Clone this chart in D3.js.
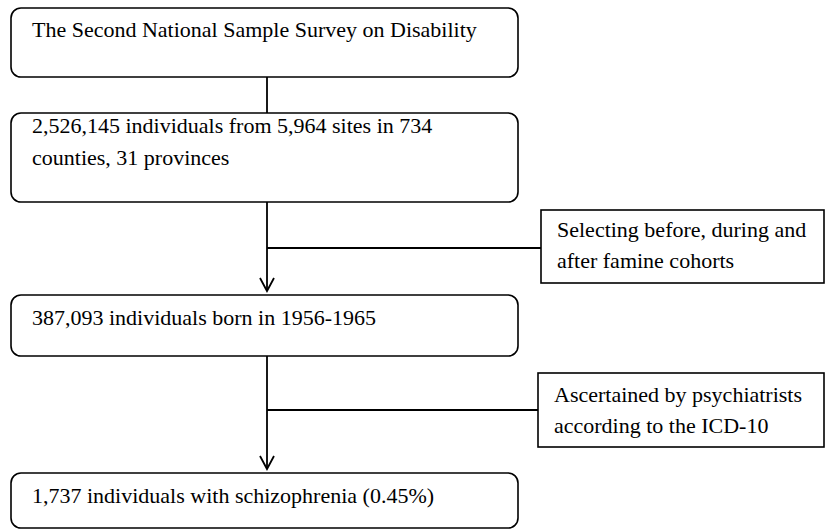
<!DOCTYPE html>
<html><head><meta charset="utf-8">
<script src="https://cdn.jsdelivr.net/npm/d3@7/dist/d3.min.js"></script>
<style>html,body{margin:0;padding:0;background:#fff;}svg{display:block;}</style>
</head><body>
<svg id="chart" width="827" height="532"></svg>
<script>
// Flowchart content
const mainSteps = [
  ["The Second National Sample Survey on Disability"],
  ["2,526,145 individuals from 5,964 sites in 734", "counties, 31 provinces"],
  ["387,093 individuals born in 1956-1965"],
  ["1,737 individuals with schizophrenia (0.45%)"]
];
const sideNotes = [
  ["Selecting before, during and", "after famine cohorts"],
  ["Ascertained by psychiatrists", "according to the ICD-10"]
];

const svg = d3.select("#chart");
const font = "'Liberation Serif','Times New Roman',serif";
const fs = 22;

// layout
const mainX = 11, mainW = 507;
const mainTops = [8, 113, 295, 473];
const mainBottoms = [77, 202, 356, 528];
const mainBase = [29, 20, 30, 30];
const connX = 267;
const sideXs = [541, 538];
const sideTops = [210, 373], sideBottoms = [283, 447];
const sideBase = [27, 29];
const branchY = [248, 410];

const y = d3.scaleLinear().domain([0, 532]).range([0, 532]);

const g = svg.append("g");
g.selectAll("rect.main").data(mainSteps).join("rect")
  .attr("class", "main")
  .attr("x", mainX).attr("y", (d, i) => y(mainTops[i]))
  .attr("width", mainW).attr("height", (d, i) => y(mainBottoms[i]) - y(mainTops[i]))
  .attr("rx", 10).attr("ry", 10)
  .attr("fill", "#fff").attr("stroke", "#000").attr("stroke-width", 1.6);

g.selectAll("text.main").data(mainSteps).join("text")
  .attr("class", "main")
  .attr("font-family", font).attr("font-size", fs).attr("fill", "#000")
  .each(function(d, i) {
    d3.select(this).selectAll("tspan").data(d).join("tspan")
      .attr("x", mainX + 21)
      .attr("y", (t, j) => y(mainTops[i]) + mainBase[i] + j * 32)
      .text(t => t);
  });

g.selectAll("rect.side").data(sideNotes).join("rect")
  .attr("class", "side")
  .attr("x", (d, i) => sideXs[i]).attr("y", (d, i) => y(sideTops[i]))
  .attr("width", (d, i) => 824 - sideXs[i]).attr("height", (d, i) => y(sideBottoms[i]) - y(sideTops[i]))
  .attr("fill", "#fff").attr("stroke", "#000").attr("stroke-width", 1.6);

g.selectAll("text.side").data(sideNotes).join("text")
  .attr("class", "side")
  .attr("font-family", font).attr("font-size", fs).attr("fill", "#000")
  .each(function(d, i) {
    d3.select(this).selectAll("tspan").data(d).join("tspan")
      .attr("x", sideXs[i] + 16)
      .attr("y", (t, j) => y(sideTops[i]) + sideBase[i] + j * 31)
      .text(t => t);
  });

const lines = g.append("g").attr("stroke", "#000").attr("stroke-width", 1.8).attr("fill", "none");
lines.append("line").attr("x1", connX).attr("x2", connX)
  .attr("y1", y(mainBottoms[0])).attr("y2", y(mainTops[1]));
[1, 2].forEach((k, i) => {
  const y1 = y(mainBottoms[k]), y2 = y(mainTops[k + 1]) - 4;
  lines.append("line").attr("x1", connX).attr("x2", connX).attr("y1", y1).attr("y2", y2);
  lines.append("path").attr("d", `M${connX - 7},${y2 - 13} L${connX},${y2} L${connX + 7},${y2 - 13}`);
  lines.append("line").attr("x1", connX).attr("x2", sideXs[i])
    .attr("y1", y(branchY[i])).attr("y2", y(branchY[i]));
});
</script>
</body></html>
